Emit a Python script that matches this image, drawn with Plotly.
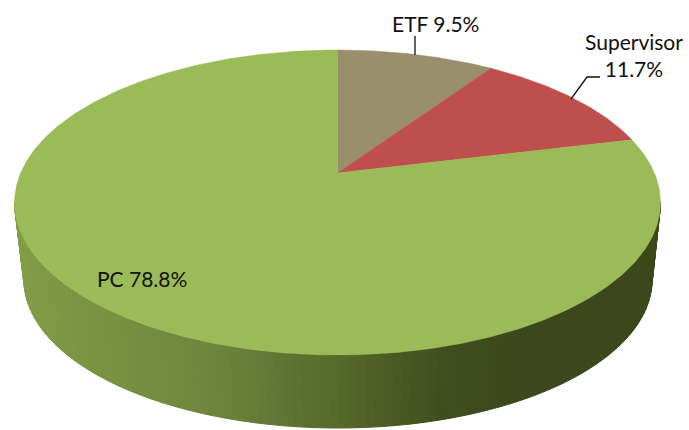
import math
import plotly.graph_objects as go

# Data
categories = ["ETF", "Supervisor", "PC"]
values = [9.5, 11.7, 78.8]
slice_colors = ["#9A8F6C", "#BE4F4C", "#9BBB59"]
label_texts = ["ETF 9.5%", "Supervisor<br>11.7%", "PC 78.8%"]

# Side-wall shading stops (x pixel, colour)
wall_stops = [(14, (130, 158, 72)), (60, (124, 150, 68)), (130, (118, 142, 64)),
              (210, (110, 133, 60)), (290, (94, 115, 50)), (345, (84, 103, 42)),
              (400, (72, 88, 34)), (450, (64, 77, 29)), (520, (60, 72, 27)),
              (660, (60, 72, 27))]

W, H = 689, 430
CX, CY, A, B = 337.5, 202.5, 323.0, 152.5      # top face ellipse
BCX, BCY, BA, BB = 338.0, 280.0, 314.0, 148.0  # lower rim ellipse
K = (CY - 173.0) / B                           # perspective shift of the pie's apex


def rim(theta, cx=CX, cy=CY, a=A, b=B):
    """theta clockwise from the top, in a projected circle."""
    u, v = math.sin(theta), math.cos(theta)
    d = 1 + K * v
    uu = u * math.sqrt(1 - K * K) / d
    vv = (v + K) / d
    return cx + a * uu, cy - b * vv


def wall_color(x):
    for (x0, c0), (x1, c1) in zip(wall_stops, wall_stops[1:]):
        if x <= x1:
            t = max(0.0, (x - x0) / (x1 - x0))
            return "rgb(%d,%d,%d)" % tuple(round(p + (q - p) * t) for p, q in zip(c0, c1))
    return "rgb(%d,%d,%d)" % wall_stops[-1][1]


fig = go.Figure()

# Side wall: strips following the front half of the rim
N = 110
def ell(phi, cx, cy, a, b):
    return cx + a * math.sin(phi), cy - b * math.cos(phi)

for i in range(N):
    p0 = math.pi / 2 + math.pi * i / N
    p1 = math.pi / 2 + math.pi * (i + 1) / N
    tx0, ty0 = ell(p0, CX, CY, A, B)
    tx1, ty1 = ell(p1, CX, CY, A, B)
    bx0, by0 = ell(p0, BCX, BCY, BA, BB)
    bx1, by1 = ell(p1, BCX, BCY, BA, BB)
    col = wall_color((tx0 + tx1) / 2)
    fig.add_trace(go.Scatter(x=[tx0, tx1, bx1, bx0, tx0], y=[ty0, ty1, by1, by0, ty0],
                             mode="lines", fill="toself", fillcolor=col,
                             line=dict(color=col, width=1), hoverinfo="skip", showlegend=False))

# Top face slices
total = sum(values)
start = 0.0
for name, val, col in zip(categories, values, slice_colors):
    end = start + val / total * 2 * math.pi
    n = max(8, int(val * 6))
    pts = [rim(start + (end - start) * j / n) for j in range(n + 1)]
    xs = [CX] + [p[0] for p in pts] + [CX]
    ys = [173.0] + [p[1] for p in pts] + [173.0]
    fig.add_trace(go.Scatter(x=xs, y=ys, mode="lines", fill="toself", fillcolor=col,
                             line=dict(color=col, width=0.5), name=name, showlegend=False,
                             hoverinfo="name"))
    start = end

# Leader lines
for lx, ly in [([415, 415], [36, 55]), ([600, 587, 571], [77, 77, 99])]:
    fig.add_trace(go.Scatter(x=lx, y=ly, mode="lines", line=dict(color="#111111", width=1.3),
                             hoverinfo="skip", showlegend=False))

# Labels
for txt, x, y in zip(label_texts, [435, 634, 142], [23, 55, 278]):
    fig.add_annotation(x=x, y=y, text=txt, showarrow=False, xref="x", yref="y",
                       font=dict(family="Lato", size=21, color="#111111"), align="center")

fig.update_layout(width=W, height=H, margin=dict(l=0, r=0, t=0, b=0),
                  paper_bgcolor="white", plot_bgcolor="white", showlegend=False,
                  xaxis=dict(range=[0, W], visible=False, fixedrange=True),
                  yaxis=dict(range=[H, 0], visible=False, fixedrange=True))
fig.write_html("out.html", config={"displayModeBar": False},
               post_script="document.body.style.margin='0';document.body.style.overflow='hidden';")
